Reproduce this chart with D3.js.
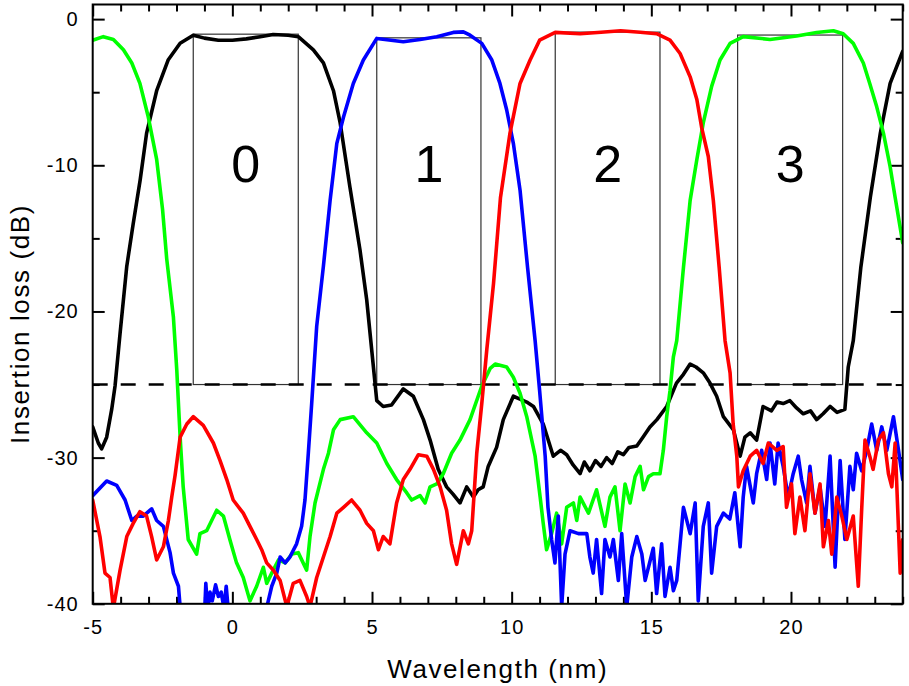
<!DOCTYPE html>
<html>
<head>
<meta charset="utf-8">
<script src="https://cdn.jsdelivr.net/npm/d3@7"></script>
<style>
  body { margin: 0; background: #fff; }
  svg { display: block; font-family: "Liberation Sans", Arial, sans-serif; }
  .tick text { font-size: 20px; fill: #000; letter-spacing: 1px; }
  .tick line { stroke: #000; stroke-width: 2px; }
  .axisText { font-size: 26px; letter-spacing: 1.6px; fill: #000; }
</style>
</head>
<body>
<div id="chart"></div>
<script>
// Channel 0 (black)
var wl0 = [-5, -4.8, -4.68, -4.5, -4.32, -4.2, -4.02, -3.78, -3.55, -3.3, -3.07, -2.71, -2.3, -1.87, -1.4, -1.0, -0.5, 0, 0.5, 1.0, 1.46, 2.0, 2.36,
  2.9, 3.26, 3.62, 3.86, 4.21, 4.57, 4.81, 5.05, 5.17, 5.4, 5.7, 6.12, 6.48, 6.84, 7.08, 7.37, 7.67, 7.9, 8.15, 8.39, 8.63, 8.8, 8.98, 9.16,
  9.46, 9.7, 10.06, 10.3, 10.54, 10.78, 11.13, 11.49, 11.75, 11.97, 12.2, 12.45, 12.6, 12.8, 13.0, 13.2, 13.4, 13.6, 13.8, 14.0, 14.2, 14.48,
  14.7, 14.95, 15.2, 15.55, 15.9, 16.15, 16.39, 16.6, 16.86, 17.1, 17.34, 17.58, 17.94, 18.18, 18.35, 18.54, 18.77, 19.0, 19.3, 19.5, 19.72,
  19.96, 20.2, 20.44, 20.7, 20.92, 21.15, 21.4, 21.65, 21.93, 22.05, 22.23, 22.5, 22.84, 23.2, 23.55, 23.97, 24];
var loss0 = [-27.9, -29.0, -29.4, -28.6, -26.7, -25.1, -21.5, -16.9, -14.0, -11.0, -7.8, -4.9, -2.8, -1.65, -1.1, -1.3, -1.45, -1.45, -1.35, -1.2, -1.05, -1.1, -1.2,
  -2.1, -3.0, -4.9, -7.1, -11.5, -15.8, -19.2, -23.8, -26.1, -26.5, -26.4, -25.3, -25.8, -27.4, -28.8, -30.8, -32.0, -32.5, -33.1, -32.0, -32.7, -32.2, -32.0, -30.6,
  -29.3, -27.4, -25.8, -26.0, -26.2, -26.5, -27.7, -29.9, -29.5, -29.8, -30.5, -31.1, -30.3, -30.9, -30.2, -30.6, -30.0, -30.4, -29.6, -29.8, -29.3, -29.2,
  -28.6, -27.9, -27.4, -26.5, -24.9, -24.3, -23.6, -23.8, -24.2, -24.9, -25.8, -27.2, -28.1, -29.9, -28.6, -28.3, -28.8, -26.5, -26.8, -26.2, -26.3,
  -26.1, -26.6, -27.0, -26.8, -27.4, -27.0, -26.5, -26.9, -26.7, -23.8, -22.0, -17.0, -12.2, -7.8, -4.4, -2.35, -2.2];

// Channel 1 (blue)
var wl1 = [-5, -4.5, -4.14, -3.84, -3.6, -3.42, -3.19, -2.89, -2.71, -2.47, -2.23, -2.11, -1.93, -1.87, -1.5, -1.0, -0.95, -0.88, -0.8, -0.72, -0.6, -0.5,
  -0.4, -0.3, -0.22, -0.12, 0.3, 0.8, 1.2, 1.41, 1.59, 1.71, 1.89, 2.06, 2.3, 2.48, 2.6, 2.72, 2.84, 3.02, 3.26, 3.5, 3.74, 3.98, 4.33, 4.69,
  5.17, 6.12, 6.72, 7.32, 7.91, 8.27, 8.51, 8.93, 9.29, 9.58, 9.82, 10.06, 10.3, 10.57, 10.84, 11.0, 11.2, 11.3, 11.43,
  11.55, 11.67, 11.79, 11.91, 12.09, 12.39, 12.69, 12.8, 12.92, 13.04, 13.22, 13.34, 13.52, 13.64, 13.82, 13.94, 14.12, 14.3, 14.48, 14.66,
  14.78, 15.07, 15.19, 15.37, 15.49, 15.67, 15.79, 15.91, 16.15, 16.39, 16.57, 16.68, 16.86, 17.04, 17.16, 17.34, 17.58, 17.81, 17.99, 18.18,
  18.29, 18.41, 18.65, 18.77, 18.95, 19.13, 19.25, 19.42, 19.54, 19.72, 19.9, 20.08, 20.26, 20.38, 20.56, 20.68, 20.86, 21.04, 21.22, 21.4,
  21.58, 21.76, 21.93, 22.11, 22.23, 22.35, 22.53, 22.71, 22.89, 23.07, 23.25, 23.43, 23.67, 23.85, 24];
var loss1 = [-32.6, -31.6, -31.9, -32.9, -34.3, -34.0, -34.0, -33.5, -34.3, -34.7, -36.5, -37.9, -38.8, -40.2, -42, -41, -38.6, -40.5, -39.2, -39.8, -38.7, -39.5,
  -39.2, -40.3, -38.8, -41, -42, -42, -40.5, -38.8, -37.9, -36.8, -37.2, -36.8, -35.9, -34.7, -32.9, -29.7, -26.3, -21.0, -16.9, -12.4, -8.5, -6.7, -4.4, -2.8,
  -1.32, -1.55, -1.39, -1.2, -0.91, -0.87, -1.1, -1.66, -2.8, -4.4, -6.2, -8.5, -11.7, -17.0, -22.0, -25.4, -29.9, -33.4, -35.6,
  -37.2, -34.0, -40.2, -36.6, -35.0, -35.2, -35.2, -36.8, -37.9, -35.6, -39.3, -35.6, -36.8, -35.6, -38.4, -35.2, -40.2, -36.8, -35.4, -36.6,
  -38.4, -36.2, -39.3, -35.9, -39.5, -37.5, -39.1, -38.4, -33.4, -35.2, -33.1, -39.8, -34.7, -33.1, -37.9, -34.7, -33.8, -34.2, -32.4, -36.1,
  -32.7, -30.6, -33.1, -31.1, -29.5, -31.5, -29.0, -31.8, -29.0, -30.6, -32.7, -31.1, -29.9, -31.5, -33.1, -30.6, -33.8, -32.0, -34.7, -29.9,
  -37.5, -30.2, -35.6, -30.6, -32.2, -29.7, -30.9, -29.5, -27.7, -29.5, -27.9, -29.5, -27.2, -29.5, -31.5];

// Channel 2 (red)
var wl2 = [-5, -4.74, -4.56, -4.38, -4.26, -4.02, -3.78, -3.55, -3.31, -3.07, -2.89, -2.71, -2.47, -2.29, -2.17, -2.05, -1.87, -1.63, -1.4, -1.04,
  -0.68, -0.44, -0.2, 0.03, 0.39, 0.63, 0.87, 1.05, 1.23, 1.47, 1.71, 1.95, 2.18, 2.42, 2.66, 2.78, 3.02, 3.26, 3.5, 3.74, 3.98, 4.27, 4.57,
  4.81, 5.05, 5.23, 5.4, 5.64, 5.88, 6.12, 6.36, 6.66, 6.96, 7.2, 7.44, 7.67, 7.85, 8.03, 8.27, 8.45, 8.57, 8.75, 8.93, 9.11, 9.35, 9.6,
  9.94, 10.3, 10.66, 11.0, 11.56, 12.45, 13.2, 13.9, 14.6, 15.19, 15.67, 16.03, 16.39, 16.63, 16.8, 17.04, 17.22, 17.43, 17.64, 17.82, 17.93,
  18.06, 18.12, 18.29, 18.54, 18.77, 19.0, 19.19, 19.49, 19.72, 19.84, 20.02, 20.14, 20.32, 20.5, 20.68, 20.86, 21.04, 21.16, 21.34, 21.46,
  21.64, 21.82, 22.0, 22.23, 22.41, 22.53, 22.65, 22.82, 22.94, 23.13, 23.31, 23.49, 23.61, 23.73, 23.91, 24];
var loss2 = [-32.9, -35.4, -37.9, -38.2, -40.3, -37.7, -35.4, -34.5, -33.7, -34.0, -35.4, -37.0, -36.1, -34.3, -32.7, -31.2, -28.6, -27.7, -27.2, -27.8,
  -29.0, -30.2, -31.5, -32.9, -33.8, -34.7, -35.6, -36.3, -37.2, -37.7, -38.4, -40.2, -38.6, -38.4, -39.5, -40.2, -38.2, -36.8, -35.4, -33.8, -33.4, -32.9, -33.6,
  -34.5, -35.0, -36.3, -35.4, -35.9, -33.1, -31.5, -30.8, -29.8, -29.9, -30.8, -32.0, -33.6, -35.9, -37.3, -35.0, -35.9, -35.0, -29.7, -26.3, -22.6, -18.1, -12.2,
  -7.8, -4.4, -2.8, -1.44, -0.91, -1.0, -0.9, -0.8, -0.9, -1.0, -1.44, -2.35, -3.95, -5.5, -7.4, -9.4, -12.4, -17.0, -22.0, -24.2, -27.7,
  -29.9, -32.0, -30.9, -29.9, -29.5, -30.4, -29.0, -29.5, -29.25, -33.4, -31.8, -35.2, -32.7, -35.0, -31.1, -33.8, -31.8, -36.1, -34.3, -36.6,
  -32.7, -34.0, -35.6, -34.0, -38.8, -33.6, -28.8, -29.9, -30.8, -28.8, -28.3, -31.1, -32.0, -29.0, -37.9, -35.6];

// Channel 3 (green)
var wl3 = [-5, -4.62, -4.26, -3.9, -3.6, -3.31, -3.01, -2.71, -2.5, -2.35, -2.11, -1.99, -1.87, -1.76, -1.58, -1.28, -1.16, -0.92, -0.56, -0.32,
  -0.09, 0.15, 0.39, 0.63, 0.87, 1.11, 1.23, 1.41, 1.65, 1.89, 2.13, 2.36, 2.66, 2.78, 2.96, 3.26, 3.44, 3.62, 3.86, 4.33, 4.81, 5.17, 5.53,
  5.88, 6.24, 6.42, 6.72, 6.9, 7.08, 7.32, 7.55, 7.85, 8.15, 8.51, 8.93, 9.23, 9.41, 9.82, 10.06, 10.3, 10.54, 10.84, 11.02, 11.13, 11.25,
  11.43, 11.61, 11.79, 11.97, 12.21, 12.33, 12.45, 12.75, 13.04, 13.34, 13.52, 13.7, 13.88, 14.06, 14.24, 14.42, 14.6, 14.72, 14.9, 15.07,
  15.31, 15.43, 15.55, 15.67, 15.79, 15.91, 16.15, 16.39, 16.63, 16.86, 17.16, 17.46, 17.82, 18.29, 19.25, 20.2, 20.92, 21.52, 21.87, 22.23,
  22.59, 22.82, 23.07, 23.31, 23.55, 23.73, 24];
var loss3 = [-1.44, -1.2, -1.39, -2.1, -3.0, -4.4, -6.7, -9.6, -13.0, -16.4, -20.4, -24.0, -28.6, -32.0, -35.6, -36.6, -35.2, -35.0, -33.6, -34.0,
  -35.6, -37.2, -38.2, -39.8, -38.8, -37.5, -38.6, -37.9, -37.0, -37.2, -36.6, -36.5, -37.7, -35.4, -33.1, -30.8, -29.7, -28.1, -27.4, -27.2, -28.3, -29.0, -30.4,
  -31.5, -32.4, -32.9, -32.6, -33.1, -32.0, -31.8, -31.1, -29.7, -28.8, -27.4, -25.1, -23.9, -23.6, -23.8, -24.5, -25.6, -27.2, -29.9, -32.7, -34.5, -36.3,
  -35.2, -33.8, -35.9, -33.4, -33.1, -34.3, -32.7, -33.8, -32.2, -34.7, -32.7, -32.0, -35.0, -31.8, -33.1, -31.3, -30.6, -32.2, -31.3, -31.1,
  -31.1, -29.5, -27.2, -25.4, -23.1, -22.0, -17.0, -12.4, -9.6, -7.1, -4.6, -2.8, -1.66, -1.2, -1.39, -1.16, -0.91, -0.8, -1.0, -1.66,
  -3.0, -4.4, -6.0, -7.8, -10.1, -12.2, -15.3];

// Passband boxes
var boxLeft = [-1.4, 5.17, 11.56, 18.09];
var boxRight = [2.36, 8.9, 15.31, 21.85];
var boxTop = [-1.03, -1.28, -0.89, -1.09];
var boxBottom = -25;
var boxLabels = ["0", "1", "2", "3"];

// Ticks
var xMajor = [-5, 0, 5, 10, 15, 20];
var xMinor = [-4, -3, -2, -1, 1, 2, 3, 4, 6, 7, 8, 9, 11, 12, 13, 14, 16, 17, 18, 19, 21, 22, 23, 24];
var yMajor = [0, -10, -20, -30, -40];
var yMinor = [-5, -15, -25, -35];

var thresholdLoss = -25;

//SVG Information
var svgWidth = 909;
var svgHeight = 686;

var margin = {
  top: 4.5,
  right: 6.3,
  bottom: 82.2,
  left: 92.7
};

var width = svgWidth - margin.left - margin.right;
var height = svgHeight - margin.top - margin.bottom;

var svg = d3.select("#chart")
  .append("svg")
  .attr("width", svgWidth)
  .attr("height", svgHeight);

var chartGroup = svg.append("g")
  .attr("transform", `translate(${margin.left}, ${margin.top})`);

// Scales
var xScale = d3.scaleLinear()
  .domain([-5, 24])
  .range([0, width]);

var yScale = d3.scaleLinear()
  .domain([-40, 1])
  .range([height, 0]);

// clip the curves to the frame
chartGroup.append("clipPath")
  .attr("id", "plotClip")
  .append("rect")
  .attr("width", width)
  .attr("height", height);

// plain hyphen for negative tick labels
var plainFormat = d => String(d);

// Axes, ticks pointing inward
function addAxis(axis, transform) {
  var g = chartGroup.append("g")
    .attr("transform", transform)
    .call(axis);
  g.select(".domain").remove();
  return g;
}

addAxis(d3.axisBottom(xScale).tickValues(xMajor).tickFormat(plainFormat).tickSizeInner(-12).tickSizeOuter(0).tickPadding(16), `translate(0, ${height})`);
addAxis(d3.axisBottom(xScale).tickValues(xMinor).tickSizeInner(-7).tickSizeOuter(0).tickFormat(""), `translate(0, ${height})`);
addAxis(d3.axisTop(xScale).tickValues(xMajor).tickSizeInner(-12).tickSizeOuter(0).tickFormat(""), "translate(0, 0)");
addAxis(d3.axisTop(xScale).tickValues(xMinor).tickSizeInner(-7).tickSizeOuter(0).tickFormat(""), "translate(0, 0)");

addAxis(d3.axisLeft(yScale).tickValues(yMajor).tickFormat(plainFormat).tickSizeInner(-12).tickSizeOuter(0).tickPadding(14), "translate(0, 0)");
addAxis(d3.axisLeft(yScale).tickValues(yMinor).tickSizeInner(-7).tickSizeOuter(0).tickFormat(""), "translate(0, 0)");
addAxis(d3.axisRight(yScale).tickValues(yMajor).tickSizeInner(-12).tickSizeOuter(0).tickFormat(""), `translate(${width}, 0)`);
addAxis(d3.axisRight(yScale).tickValues(yMinor).tickSizeInner(-7).tickSizeOuter(0).tickFormat(""), `translate(${width}, 0)`);

// Passband boxes
var boxGroup = chartGroup.append("g");

boxGroup.selectAll("rect")
  .data(boxLabels)
  .enter()
  .append("rect")
  .attr("x", (d, i) => xScale(boxLeft[i]))
  .attr("y", (d, i) => yScale(boxTop[i]))
  .attr("width", (d, i) => xScale(boxRight[i]) - xScale(boxLeft[i]))
  .attr("height", (d, i) => yScale(boxBottom) - yScale(boxTop[i]))
  .attr("fill", "none")
  .attr("stroke", "#333")
  .attr("stroke-width", 1.2);

boxGroup.selectAll("text")
  .data(boxLabels)
  .enter()
  .append("text")
  .attr("x", (d, i) => xScale((boxLeft[i] + boxRight[i]) / 2))
  .attr("y", yScale(-11.15))
  .style("font-size", "52px")
  .style("text-anchor", "middle")
  .style("fill", "#000")
  .text(d => d);

// -25 dB threshold
chartGroup.append("line")
  .attr("x1", 0)
  .attr("x2", width)
  .attr("y1", yScale(thresholdLoss))
  .attr("y2", yScale(thresholdLoss))
  .attr("stroke", "#000")
  .attr("stroke-width", 2.6)
  .attr("stroke-dasharray", "15,13");

// Curves
var series = [
  { wl: wl0, loss: loss0, color: "#000000" },
  { wl: wl3, loss: loss3, color: "#00ff00" },
  { wl: wl1, loss: loss1, color: "#0000ff" },
  { wl: wl2, loss: loss2, color: "#ff0000" }
];

var line = d3.line()
  .x(d => xScale(d[0]))
  .y(d => yScale(d[1]));

chartGroup.append("g")
  .attr("clip-path", "url(#plotClip)")
  .selectAll("path")
  .data(series)
  .enter()
  .append("path")
  .attr("d", s => line(d3.zip(s.wl, s.loss)))
  .attr("fill", "none")
  .attr("stroke", s => s.color)
  .attr("stroke-width", 3.6)
  .attr("stroke-linejoin", "round")
  .attr("stroke-linecap", "round");

// Frame
chartGroup.append("rect")
  .attr("width", width)
  .attr("height", height)
  .attr("fill", "none")
  .attr("stroke", "#000")
  .attr("stroke-width", 2);

// Axis labels
chartGroup.append("text")
  .attr("transform", `translate(${29 - margin.left}, ${324 - margin.top}) rotate(-90)`)
  .attr("class", "axisText")
  .style("text-anchor", "middle")
  .text("Insertion loss (dB)");

chartGroup.append("text")
  .attr("x", width / 2)
  .attr("y", 678 - margin.top)
  .attr("class", "axisText")
  .style("text-anchor", "middle")
  .text("Wavelength (nm)");
</script>
</body>
</html>
